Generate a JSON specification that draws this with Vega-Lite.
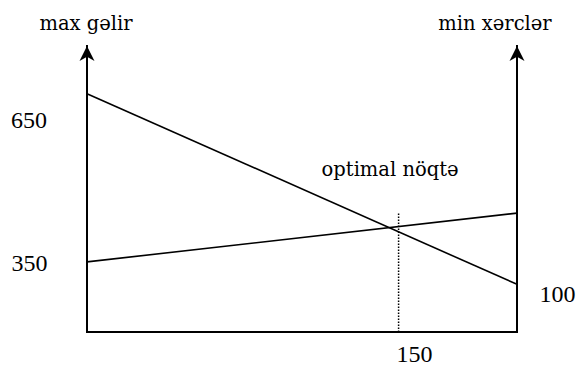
{
  "$schema": "https://vega.github.io/schema/vega-lite/v6.json",
  "autosize": "none",
  "width": 430,
  "height": 286,
  "padding": {"left": 87, "top": 46, "right": 60, "bottom": 35},
  "background": "white",
  "config": {
    "view": {"stroke": null},
    "text": {"color": "black"}
  },
  "datasets": {
    "axes": [
      {"name": "gəlir", "x": 0, "y": 225, "x2": 0, "y2": 735},
      {"name": "xərclər", "x": 207, "y": 225, "x2": 207, "y2": 735},
      {"name": "miqdar", "x": 0, "y": 225, "x2": 207, "y2": 225}
    ],
    "arrows": [
      {"x": 0, "y": 735},
      {"x": 207, "y": 735}
    ],
    "lines": [
      {"series": "gəlir", "x": 0, "y": 650},
      {"series": "gəlir", "x": 207, "y": 310},
      {"series": "xərclər", "x": 0, "y": 350},
      {"series": "xərclər", "x": 207, "y": 437}
    ],
    "optimum": [
      {"x": 150, "y": 225, "y2": 437}
    ],
    "titles": [
      {"text": "max gəlir", "x": -0.5, "y": 763.5},
      {"text": "min xərclər", "x": 196.4, "y": 763.5},
      {"text": "optimal nöqtə", "x": 145.9, "y": 503.2}
    ],
    "numbers": [
      {"text": "650", "x": -27.9, "y": 588.8},
      {"text": "350", "x": -27.7, "y": 333.8},
      {"text": "100", "x": 226.5, "y": 278.5},
      {"text": "150", "x": 157.7, "y": 171.5}
    ]
  },
  "layer": [
    {
      "data": {"name": "axes"},
      "mark": {"type": "rule", "color": "black", "strokeWidth": 2, "strokeCap": "square"},
      "encoding": {
        "x": {"field": "x", "type": "quantitative", "scale": {"domain": [0, 207], "nice": false, "zero": false}, "axis": null},
        "y": {"field": "y", "type": "quantitative", "scale": {"domain": [225, 735], "nice": false, "zero": false}, "axis": null},
        "x2": {"field": "x2"},
        "y2": {"field": "y2"}
      }
    },
    {
      "data": {"name": "arrows"},
      "mark": {"type": "point", "shape": "M0,0L0.5,1L0,0.72L-0.5,1Z", "size": 900, "filled": true, "color": "black", "opacity": 1, "strokeWidth": 0},
      "encoding": {
        "x": {"field": "x", "type": "quantitative"},
        "y": {"field": "y", "type": "quantitative"}
      }
    },
    {
      "data": {"name": "lines"},
      "mark": {"type": "line", "color": "black", "strokeWidth": 1.6},
      "encoding": {
        "x": {"field": "x", "type": "quantitative"},
        "y": {"field": "y", "type": "quantitative"},
        "detail": {"field": "series"}
      }
    },
    {
      "data": {"name": "optimum"},
      "mark": {"type": "rule", "color": "black", "strokeWidth": 1.5, "strokeDash": [1.5, 1.5]},
      "encoding": {
        "x": {"field": "x", "type": "quantitative"},
        "y": {"field": "y", "type": "quantitative"},
        "y2": {"field": "y2"}
      }
    },
    {
      "data": {"name": "titles"},
      "mark": {"type": "text", "align": "center", "baseline": "alphabetic", "font": "DejaVu Serif", "fontSize": 19.5},
      "encoding": {
        "x": {"field": "x", "type": "quantitative"},
        "y": {"field": "y", "type": "quantitative"},
        "text": {"field": "text"}
      }
    },
    {
      "data": {"name": "numbers"},
      "mark": {"type": "text", "align": "center", "baseline": "alphabetic", "font": "Liberation Serif", "fontSize": 24},
      "encoding": {
        "x": {"field": "x", "type": "quantitative"},
        "y": {"field": "y", "type": "quantitative"},
        "text": {"field": "text"}
      }
    }
  ]
}
